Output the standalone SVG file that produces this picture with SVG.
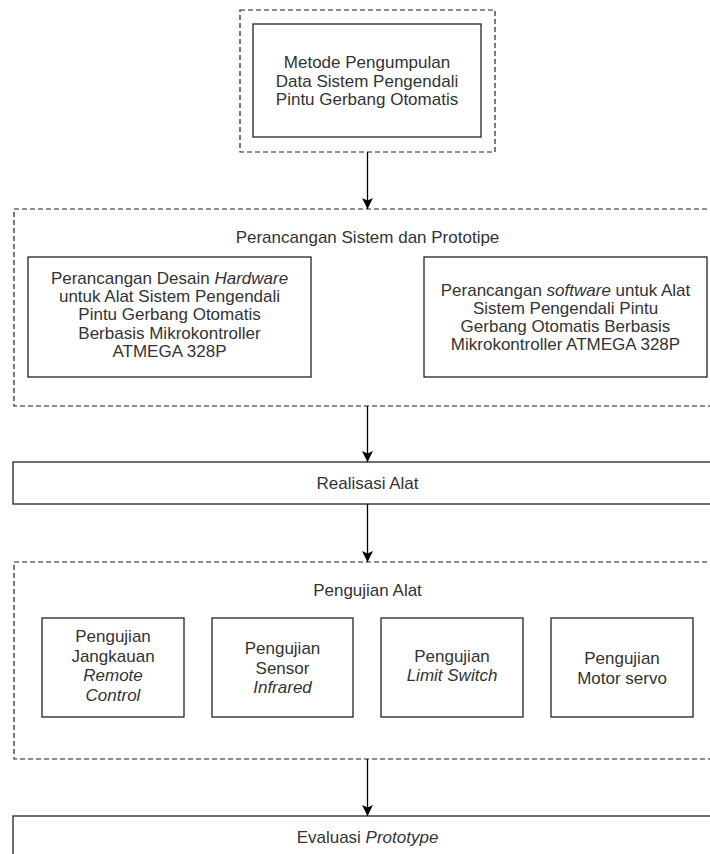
<svg xmlns="http://www.w3.org/2000/svg" width="710" height="854" viewBox="0 0 710 854">
<style>
  .bg{fill:#ffffff}
  .box{fill:#ffffff;stroke:#222222;stroke-width:1.3}
  .dash{fill:none;stroke:#222222;stroke-width:1.2;stroke-dasharray:5 3}
  .t{font-family:"Liberation Sans",Arial,Helvetica,sans-serif;font-size:17px;fill:#333333;text-anchor:middle}
  .i{font-style:italic}
  .edge{fill:none;stroke:#000000;stroke-width:1.3}
</style>
<defs>
  <marker id="arr" viewBox="0 0 12 12" refX="11" refY="6" markerWidth="12" markerHeight="12" markerUnits="userSpaceOnUse" orient="auto">
    <path d="M0,0.5 L11,6 L0,11.5 L2.5,6 Z" fill="#000000"/>
  </marker>
</defs>
<rect class="bg" x="0" y="0" width="710" height="854"/>

<g id="group-metode">
  <rect class="dash" x="240" y="10" width="255" height="142"/>
  <g id="node-metode">
    <rect class="box" x="253" y="24" width="228" height="113"/>
    <text class="t" x="367" y="68">Metode Pengumpulan</text>
    <text class="t" x="367" y="86.5">Data Sistem Pengendali</text>
    <text class="t" x="367" y="105">Pintu Gerbang Otomatis</text>
  </g>
</g>

<g id="group-perancangan">
  <rect class="dash" x="14" y="209" width="707" height="197"/>
  <text class="t" x="367.5" y="243">Perancangan Sistem dan Prototipe</text>
  <g id="node-hardware">
    <rect class="box" x="28" y="257" width="283" height="120"/>
    <text class="t" x="169.5" y="283.7">Perancangan Desain <tspan class="i">Hardware</tspan></text>
    <text class="t" x="169.5" y="302">untuk Alat Sistem Pengendali</text>
    <text class="t" x="169.5" y="320.3">Pintu Gerbang Otomatis</text>
    <text class="t" x="169.5" y="338.6">Berbasis Mikrokontroller</text>
    <text class="t" x="169.5" y="356.9">ATMEGA 328P</text>
  </g>
  <g id="node-software">
    <rect class="box" x="424" y="257" width="283" height="120"/>
    <text class="t" x="565.5" y="295.5">Perancangan <tspan class="i">software</tspan> untuk Alat</text>
    <text class="t" x="565.5" y="313.8">Sistem Pengendali Pintu</text>
    <text class="t" x="565.5" y="332.1">Gerbang Otomatis Berbasis</text>
    <text class="t" x="565.5" y="350.4">Mikrokontroller ATMEGA 328P</text>
  </g>
</g>

<g id="node-realisasi">
  <rect class="box" x="13" y="462" width="709" height="42"/>
  <text class="t" x="367.5" y="489">Realisasi Alat</text>
</g>

<g id="group-pengujian">
  <rect class="dash" x="14" y="562" width="707" height="197"/>
  <text class="t" x="367.5" y="596">Pengujian Alat</text>
  <g id="node-remote">
    <rect class="box" x="42" y="618" width="142" height="99"/>
    <text class="t" x="113" y="642">Pengujian</text>
    <text class="t" x="113" y="661.5">Jangkauan</text>
    <text class="t i" x="113" y="681">Remote</text>
    <text class="t i" x="113" y="700.5">Control</text>
  </g>
  <g id="node-infrared">
    <rect class="box" x="212" y="618" width="141" height="99"/>
    <text class="t" x="282.5" y="654.3">Pengujian</text>
    <text class="t" x="282.5" y="673.7">Sensor</text>
    <text class="t i" x="282.5" y="693.2">Infrared</text>
  </g>
  <g id="node-limit">
    <rect class="box" x="381" y="618" width="142" height="99"/>
    <text class="t" x="452" y="661.7">Pengujian</text>
    <text class="t i" x="452" y="681">Limit Switch</text>
  </g>
  <g id="node-servo">
    <rect class="box" x="551" y="618" width="142" height="99"/>
    <text class="t" x="622" y="664.3">Pengujian</text>
    <text class="t" x="622" y="683.7">Motor servo</text>
  </g>
</g>

<g id="node-evaluasi">
  <rect class="box" x="13" y="816" width="709" height="50"/>
  <text class="t" x="367.5" y="843.3">Evaluasi <tspan class="i">Prototype</tspan></text>
</g>

<g id="connectors">
  <line class="edge" x1="367.5" y1="152" x2="367.5" y2="209" marker-end="url(#arr)"/>
  <line class="edge" x1="367.5" y1="406" x2="367.5" y2="462" marker-end="url(#arr)"/>
  <line class="edge" x1="367.5" y1="504" x2="367.5" y2="562" marker-end="url(#arr)"/>
  <line class="edge" x1="367.5" y1="759" x2="367.5" y2="816" marker-end="url(#arr)"/>
</g>
</svg>
